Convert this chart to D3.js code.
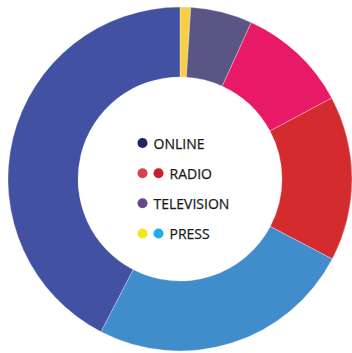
<!DOCTYPE html>
<html>
<head>
<meta charset="utf-8">
<script src="https://cdn.jsdelivr.net/npm/d3@7"></script>
<style>
  html, body { margin: 0; padding: 0; background: #fff; }
  svg { display: block; }
</style>
</head>
<body>
<svg id="chart" width="352" height="353"></svg>
<script>
// Slices, clockwise from 12 o'clock
const sliceNames = ["Press (print)", "Television", "Radio (a)", "Radio (b)", "Press (digital)", "Online"];
const sliceValues = [1.0, 5.8, 10.4, 15.5, 24.9, 42.4];
const sliceColors = ["#F8CE45", "#5A5585", "#E81A67", "#D32B2E", "#418CCB", "#4351A2"];

// Legend
const legendLabels = ["ONLINE", "RADIO", "TELEVISION", "PRESS"];
const legendDotColors = [["#1F235F"], ["#D8414F", "#C91F2A"], ["#6A478A"], ["#F2E61B", "#22AEE5"]];

const svg = d3.select("#chart");
const cx = 180, cy = 179, outerR = 172, innerR = 102;

const data = sliceValues.map((v, i) => ({ name: sliceNames[i], value: v, color: sliceColors[i] }));
const pie = d3.pie().sort(null).value(d => d.value).startAngle(0).endAngle(2 * Math.PI);
const arc = d3.arc().innerRadius(innerR).outerRadius(outerR);

const g = svg.append("g").attr("transform", `translate(${cx},${cy})`);
g.selectAll("path")
  .data(pie(data))
  .join("path")
  .attr("d", arc)
  .attr("fill", d => d.data.color)
  .attr("stroke", "rgba(255,255,255,0.5)")
  .attr("stroke-width", 0.6);

// Legend
const legendX = 142.5, dotGap = 16;
const baselines = d3.scalePoint().domain(legendLabels).range([148.5, 239]);
const lg = svg.append("g");
legendLabels.forEach((lab, i) => {
  const y = baselines(lab);
  const dots = legendDotColors[i];
  dots.forEach((c, j) => {
    lg.append("circle")
      .attr("cx", legendX + j * dotGap)
      .attr("cy", y - 5.5)
      .attr("r", 5)
      .attr("fill", c);
  });
  lg.append("text")
    .attr("x", legendX + (dots.length - 1) * dotGap + 11)
    .attr("y", y)
    .attr("font-family", "'Open Sans', sans-serif")
    .attr("font-size", 14)
    .attr("fill", "#1A1A1A")
    .attr("stroke", "#1A1A1A")
    .attr("stroke-width", 0.25)
    .text(lab);
});
</script>
</body>
</html>
